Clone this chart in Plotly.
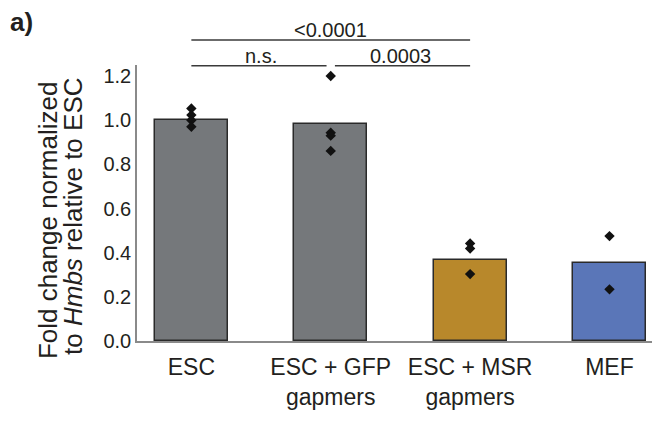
import plotly.graph_objects as go

categories = ["ESC", "ESC + GFP<br>gapmers", "ESC + MSR<br>gapmers", "MEF"]
bar_values = [1.00, 0.985, 0.366, 0.354]
bar_colors = ["#75787B", "#75787B", "#B8882B", "#5A76B8"]

points_esc = [1.053, 1.023, 1.00, 0.97]
points_gfp = [1.20, 0.943, 0.93, 0.861]
points_msr = [0.442, 0.419, 0.303]
points_mef = [0.475, 0.234]
point_groups = [points_esc, points_gfp, points_msr, points_mef]

sig_labels = ["&lt;0.0001", "n.s.", "0.0003"]
y_ticks = [0.0, 0.2, 0.4, 0.6, 0.8, 1.0, 1.2]

FONT = "Liberation Sans, Arial, sans-serif"
TXT = "#231f20"

fig = go.Figure()
fig.add_trace(go.Bar(
    x=categories, y=bar_values, width=0.524,
    marker=dict(color=bar_colors, line=dict(color="#2a2a2a", width=1.5)),
    showlegend=False, hoverinfo="skip",
))
px, py = [], []
for c, grp in zip(categories, point_groups):
    px += [c] * len(grp)
    py += grp
fig.add_trace(go.Scatter(
    x=px, y=py, mode="markers",
    marker=dict(symbol="diamond", size=8, color="#111111"),
    showlegend=False, cliponaxis=False,
))

line_style = dict(color="#3a3a3a", width=1.5)
fig.add_shape(type="line", xref="x", yref="paper", x0=0, x1=2, y0=1.0906, y1=1.0906, line=line_style)
fig.add_shape(type="line", xref="x", yref="paper", x0=0, x1=0.97, y0=0.9975, y1=0.9975, line=line_style)
fig.add_shape(type="line", xref="x", yref="paper", x0=1.03, x1=2, y0=0.9975, y1=0.9975, line=line_style)

sig_font = dict(family=FONT, size=20, color=TXT)
fig.add_annotation(text=sig_labels[0], x=1, xref="x", y=1.127, yref="paper",
                   showarrow=False, font=sig_font, yanchor="middle")
fig.add_annotation(text=sig_labels[1], x=0.5, xref="x", y=1.033, yref="paper",
                   showarrow=False, font=sig_font, yanchor="middle")
fig.add_annotation(text=sig_labels[2], x=1.5, xref="x", y=1.033, yref="paper",
                   showarrow=False, font=sig_font, yanchor="middle")

title_font = dict(family=FONT, size=26, color=TXT)
fig.add_annotation(text="Fold change normalized", x=-0.1728, xref="paper", y=0.438, yref="paper",
                   textangle=-90, showarrow=False, font=title_font, xanchor="center", yanchor="middle")
fig.add_annotation(text="to <i>Hmbs</i> relative to ESC", x=-0.1243, xref="paper", y=0.453, yref="paper",
                   textangle=-90, showarrow=False, font=title_font, xanchor="center", yanchor="middle")

fig.add_annotation(text="<b>a)</b>", x=-0.2243, xref="paper", y=1.157, yref="paper",
                   showarrow=False, font=dict(family=FONT, size=26, color=TXT),
                   xanchor="center", yanchor="middle")

# page body has an 8px margin; size the figure so the plot area lands where the reference has it
fig.update_layout(
    width=656, height=413, autosize=False,
    margin=dict(l=129, r=12, t=57, b=80, pad=0),
    plot_bgcolor="white", paper_bgcolor="white",
    bargap=0,
)
fig.update_xaxes(
    type="category", range=[-0.39, 3.305],
    showline=True, linecolor="#8a8a8a", linewidth=1.5,
    ticks="", showgrid=False, zeroline=False,
    tickfont=dict(family=FONT, size=23, color=TXT),
    ticklabelstandoff=5,
)
fig.update_yaxes(
    range=[0, 1.25], tickvals=y_ticks, ticktext=[f"{v:.1f}" for v in y_ticks],
    showline=True, linecolor="#8a8a8a", linewidth=1.5,
    ticks="", showgrid=False, zeroline=False,
    tickfont=dict(family=FONT, size=20, color=TXT),
)

fig.write_html("out.html")
